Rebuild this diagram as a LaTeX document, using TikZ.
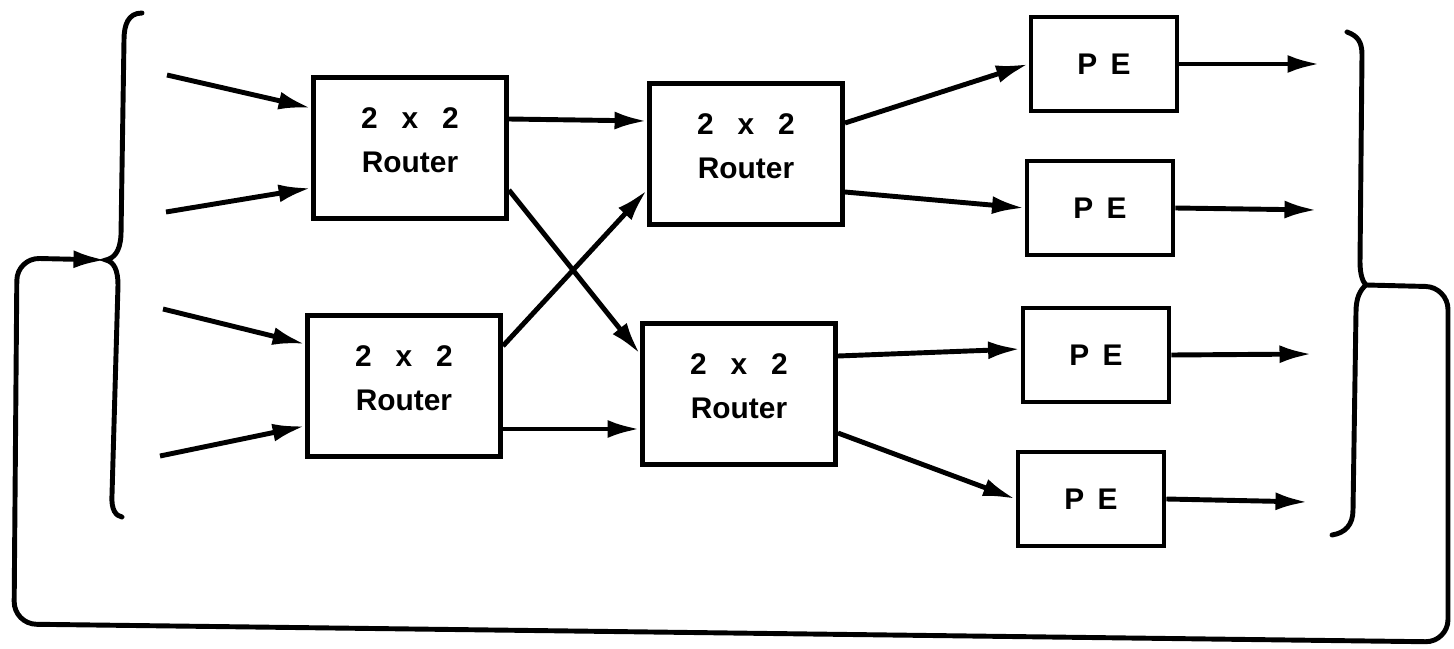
\documentclass[tikz,border=0pt]{standalone}
\usepackage{fontspec}
\setmainfont{Liberation Sans}
\usetikzlibrary{arrows.meta, calc}
\newcommand{\lowstrut}{\rule[-0.3cm]{0pt}{0pt}}

\begin{document}
\begin{tikzpicture}[x=0.02cm, y=-0.02cm, font=\fontsize{17}{25}\selectfont\bfseries,
    router/.style={draw, line width=2.8pt, minimum width=3.86cm, minimum height=2.82cm, align=center, inner sep=0pt},
    pebox/.style={draw, line width=2.8pt, minimum width=2.92cm, minimum height=1.88cm, inner sep=0pt},
    flow/.style={line width=2.8pt, -{Latex[length=0.65cm, width=0.36cm]}},
    brace/.style={line width=2.8pt, line cap=round}]
    \useasboundingbox (0,0) rectangle (1454,649);
    % switching stages
    \node[router] (r1) at (410,148) {2\hspace{0.8em}x\hspace{0.8em}2\\Router\lowstrut};
    \node[router] (r2) at (746,154) {2\hspace{0.8em}x\hspace{0.8em}2\\Router\lowstrut};
    \node[router] (r3) at (404,386) {2\hspace{0.8em}x\hspace{0.8em}2\\Router\lowstrut};
    \node[router] (r4) at (739,394) {2\hspace{0.8em}x\hspace{0.8em}2\\Router\lowstrut};
    % processing elements
    \node[pebox] (pe1) at (1104,64) {P\hspace{0.45em}E};
    \node[pebox] (pe2) at (1100,208) {P\hspace{0.45em}E};
    \node[pebox] (pe3) at (1096,355) {P\hspace{0.45em}E};
    \node[pebox] (pe4) at (1091,499) {P\hspace{0.45em}E};
    % free ends
    \coordinate (in1) at (167,75);
    \coordinate (in2) at (166,212);
    \coordinate (in3) at (163,309);
    \coordinate (in4) at (160,456);
    \coordinate (out1) at (1320,64);
    \coordinate (out2) at (1317,210);
    \coordinate (out3) at (1312,354);
    \coordinate (out4) at (1308,502);
    \coordinate (lb) at (106,260);
    \coordinate (rb) at (1366,285);
    % inputs
    \draw[flow] (in1) -- ($(r1.west)+(0,-40)$);
    \draw[flow] (in2) -- ($(r1.west)+(0,40)$);
    \draw[flow] (in3) -- ($(r3.west)+(0,-42)$);
    \draw[flow] (in4) -- ($(r3.west)+(0,40)$);
    % shuffle between the stages
    \draw[flow] ($(r1.east)+(0,-29)$) -- ($(r2.west)+(0,-33)$);
    \draw[flow] ($(r1.east)+(0,42)$) -- ($(r4.west)+(0,-40)$);
    \draw[flow] ($(r3.east)+(0,-40)$) -- ($(r2.west)+(0,36)$);
    \draw[flow] ($(r3.east)+(0,43)$) -- ($(r4.west)+(0,35)$);
    % to the processing elements
    \draw[flow] ($(r2.east)+(0,-31)$) -- (pe1.west);
    \draw[flow] ($(r2.east)+(0,38)$) -- (pe2.west);
    \draw[flow] ($(r4.east)+(0,-38)$) -- ($(pe3.west)+(0,-6)$);
    \draw[flow] ($(r4.east)+(0,39)$) -- (pe4.west);
    \draw[flow] (pe1.east) -- (out1);
    \draw[flow] (pe2.east) -- (out2);
    \draw[flow] (pe3.east) -- (out3);
    \draw[flow] (pe4.east) -- (out4);
    % braces
    \draw[brace] (142,13) .. controls (128,13) and (124,25) .. (124,40) -- (121,235)
      .. controls (120,252) and (114,258) .. (lb)
      .. controls (114,262) and (118,270) .. (118,285) -- (112,495)
      .. controls (111,510) and (116,516) .. (122,517);
    \draw[brace] (1347,32) .. controls (1358,36) and (1362,42) .. (1362,55) -- (1360,262)
      .. controls (1360,275) and (1363,282) .. (rb)
      .. controls (1360,290) and (1356,298) .. (1356,312) -- (1353,510)
      .. controls (1353,525) and (1345,533) .. (1332,535);
    % feedback
    \draw[flow, rounded corners=0.45cm] (rb) -- (1448,287) -- (1448,642) -- (14,624) -- (17,258) -- (lb);
\end{tikzpicture}
\end{document}
